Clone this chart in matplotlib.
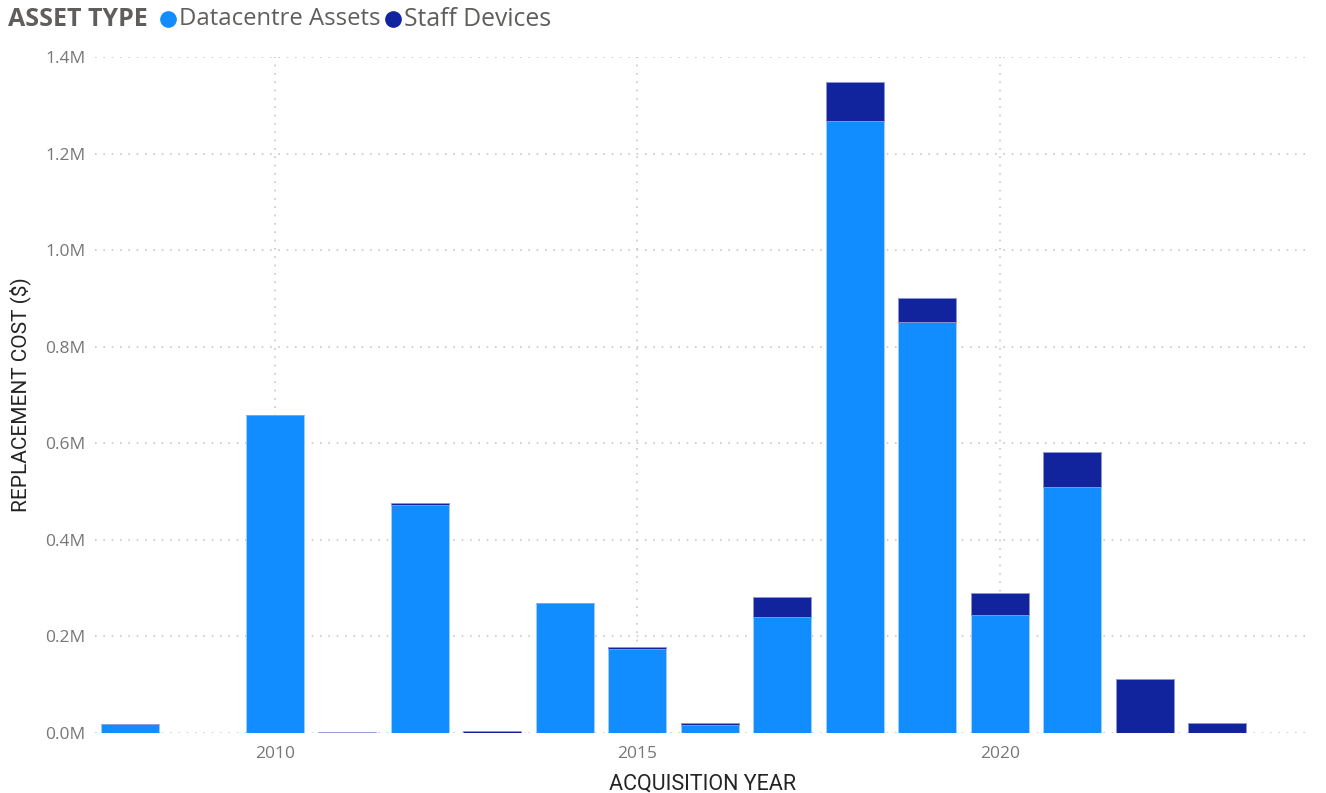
import matplotlib
matplotlib.use("Agg")
import matplotlib.pyplot as plt  # noqa: E402
from matplotlib.lines import Line2D  # noqa: E402
from matplotlib.ticker import FuncFormatter, MultipleLocator  # noqa: E402

years = [2008, 2010, 2011, 2012, 2013, 2014, 2015, 2016, 2017, 2018, 2019, 2020, 2021, 2022, 2023]
datacentre = [18000, 658000, 1500, 473000, 0, 269000, 175000, 17000, 241000, 1267000, 851000, 244000, 509000, 0, 0]
staff = [0, 0, 1500, 3000, 4000, 0, 3000, 4000, 41000, 81000, 50000, 45000, 73000, 111000, 20000]

DC_COLOR = "#118DFF"
SD_COLOR = "#12239E"
TICK_COLOR = "#777777"
TITLE_COLOR = "#252423"

plt.rcParams["font.family"] = ["Open Sans", "DejaVu Sans"]

W, H = 1326, 793
fig = plt.figure(figsize=(W / 100, H / 100), dpi=100)
ax = fig.add_axes([95 / W, 60 / H, (1310 - 95) / W, 676 / H])

ax.bar(years, datacentre, width=0.8, color=DC_COLOR, edgecolor="#9fcfff", linewidth=0.6, zorder=3)
ax.bar(years, staff, width=0.8, bottom=datacentre, color=SD_COLOR, edgecolor="#8f96d0", linewidth=0.6, zorder=3)

ax.set_ylim(0, 1.4e6)
ax.set_xlim(2007.52, 2024.28)
ax.yaxis.set_major_locator(MultipleLocator(2e5))
ax.yaxis.set_major_formatter(FuncFormatter(lambda v, _: f"{v / 1e6:.1f}M"))
ax.set_xticks([2010, 2015, 2020])

ax.grid(True, axis="both", color="#c8c8c8", linestyle=(0, (1, 4)), linewidth=1.2, zorder=0)
for s in ax.spines.values():
    s.set_visible(False)
ax.tick_params(length=0, colors=TICK_COLOR, labelsize=12.5)
ax.tick_params(axis="y", pad=7)
ax.tick_params(axis="x", pad=9)

ax.set_xlabel("ACQUISITION YEAR", fontsize=15.5, color=TITLE_COLOR, family=["Roboto", "DejaVu Sans"], labelpad=9)
ax.set_ylabel("REPLACEMENT COST ($)", fontsize=15, color=TITLE_COLOR, family=["Roboto", "DejaVu Sans"], labelpad=10)

# legend across the top
ly = 1 - 19 / H
fig.text(8 / W, ly, "ASSET TYPE", fontsize=18, fontweight="bold", color="#605E5C", va="center", ha="left")
for xc, col in [(168, DC_COLOR), (393, SD_COLOR)]:
    fig.add_artist(Line2D([xc / W], [ly], marker="o", markersize=11, color=col, linestyle="none",
                          transform=fig.transFigure))
fig.text(179 / W, ly, "Datacentre Assets", fontsize=17.2, color="#605E5C", va="center", ha="left")
fig.text(404 / W, ly, "Staff Devices", fontsize=17.8, color="#605E5C", va="center", ha="left")

fig.savefig("out.png", dpi=100)
